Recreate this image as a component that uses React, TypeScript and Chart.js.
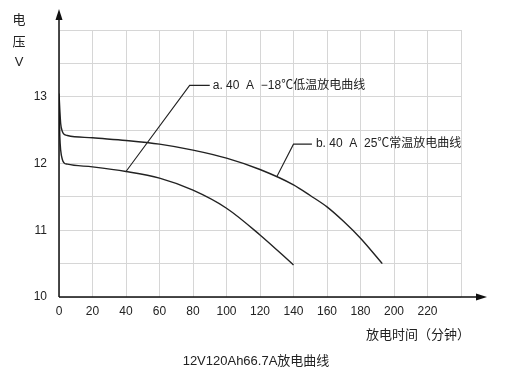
import React, { useEffect, useRef } from "react";
import { Chart, registerables } from "chart.js";

Chart.register(...registerables);

// X axis: discharge time (minutes)
const xTickLabels = [0, 20, 40, 60, 80, 100, 120, 140, 160, 180, 200, 220];
const yTickLabels = [10, 11, 12, 13];

// b. 40A 25°C normal-temperature discharge curve
const curveBTime = [0, 0.5, 1, 2, 3, 5, 20, 40, 60, 80, 100, 120, 140, 150, 160, 170, 180, 193];
const curveBVolt = [13.05, 12.8, 12.6, 12.48, 12.44, 12.42, 12.385, 12.345, 12.29, 12.2, 12.08, 11.91, 11.68, 11.52, 11.35, 11.13, 10.88, 10.5];

// a. 40A -18°C low-temperature discharge curve
const curveATime = [0, 0.5, 1, 2, 3, 5, 20, 40, 60, 80, 100, 120, 140];
const curveAVolt = [12.9, 12.4, 12.2, 12.06, 12.01, 11.99, 11.95, 11.88, 11.78, 11.6, 11.33, 10.93, 10.48];

const labelA = "a. 40  A  \u221218\u2103低温放电曲线";
const labelB = "b. 40  A  25\u2103常温放电曲线";
// leader line anchors in data units: [curve point, corner, end]
const leaderA = [[40, 11.88], [78, 13.17], [90, 13.17]];
const leaderB = [[130, 11.8], [140, 12.29], [151, 12.29]];

const xTitle = "放电时间（分钟）";
const yTitle = ["电", "压", "V"];
const chartTitle = "12V120Ah66.7A放电曲线";

const FONT = '"Liberation Sans", "Noto Sans CJK SC", sans-serif';

function toPoints(xs: number[], ys: number[]) {
  return xs.map((x, i) => ({ x, y: ys[i] }));
}

const decorPlugin = {
  id: "decor",
  afterDraw(chart: any) {
    const ctx = chart.ctx as CanvasRenderingContext2D;
    const xs = chart.scales.x;
    const ys = chart.scales.y;
    const area = chart.chartArea;
    const ox = area.left;
    const oy = area.bottom;
    ctx.save();
    // axes with arrows
    ctx.strokeStyle = "#111";
    ctx.fillStyle = "#111";
    ctx.lineWidth = 1.5;
    ctx.beginPath();
    ctx.moveTo(ox, oy);
    ctx.lineTo(ox, 14);
    ctx.moveTo(ox, oy);
    ctx.lineTo(482, oy);
    ctx.stroke();
    ctx.beginPath();
    ctx.moveTo(ox, 9);
    ctx.lineTo(ox - 3.5, 20);
    ctx.lineTo(ox + 3.5, 20);
    ctx.closePath();
    ctx.fill();
    ctx.beginPath();
    ctx.moveTo(487, oy);
    ctx.lineTo(476, oy - 3.5);
    ctx.lineTo(476, oy + 3.5);
    ctx.closePath();
    ctx.fill();

    // leader lines
    ctx.lineWidth = 1.1;
    ctx.strokeStyle = "#222";
    for (const ld of [leaderA, leaderB]) {
      ctx.beginPath();
      ld.forEach((p, i) => {
        const px = xs.getPixelForValue(p[0]);
        const py = ys.getPixelForValue(p[1]);
        if (i === 0) ctx.moveTo(px, py);
        else ctx.lineTo(px, py);
      });
      ctx.stroke();
    }
    // labels
    ctx.fillStyle = "#222";
    ctx.font = "12px " + FONT;
    ctx.textBaseline = "middle";
    ctx.textAlign = "left";
    ctx.fillText(labelA, xs.getPixelForValue(leaderA[2][0]) + 3, ys.getPixelForValue(leaderA[2][1]));
    ctx.fillText(labelB, xs.getPixelForValue(leaderB[2][0]) + 4, ys.getPixelForValue(leaderB[2][1]));

    // y title stacked
    ctx.font = "13px " + FONT;
    ctx.textAlign = "center";
    ctx.fillText(yTitle[0], 19, 20);
    ctx.fillText(yTitle[1], 19, 42);
    ctx.fillText(yTitle[2], 19, 62);

    // x title
    ctx.font = "13px " + FONT;
    ctx.textAlign = "left";
    ctx.fillText(xTitle, 366, 335);

    // chart title
    ctx.font = "13px " + FONT;
    ctx.textAlign = "center";
    ctx.fillText(chartTitle, 256, 361);
    ctx.restore();
  },
};

export default function App() {
  const ref = useRef<HTMLCanvasElement>(null);
  useEffect(() => {
    if (!ref.current) return;
    const chart = new Chart(ref.current, {
      type: "line",
      data: {
        datasets: [
          {
            data: toPoints(curveBTime, curveBVolt),
            borderColor: "#222",
            borderWidth: 1.4,
            pointRadius: 0,
            cubicInterpolationMode: "monotone",
            fill: false,
          },
          {
            data: toPoints(curveATime, curveAVolt),
            borderColor: "#222",
            borderWidth: 1.4,
            pointRadius: 0,
            cubicInterpolationMode: "monotone",
            fill: false,
          },
        ],
      },
      options: {
        responsive: false,
        animation: false,
        events: [],
        layout: { padding: { left: 0, right: 52, top: 30, bottom: 0 } },
        plugins: { legend: { display: false }, tooltip: { enabled: false }, title: { display: false } },
        scales: {
          x: {
            type: "linear",
            min: 0,
            max: 240,
            afterFit: (s: any) => { s.height = 91; },
            border: { display: false },
            grid: { color: "#d6d6d6", lineWidth: 1, drawTicks: false },
            ticks: {
              stepSize: 20,
              autoSkip: false,
              maxRotation: 0,
              padding: 7,
              color: "#222",
              font: { size: 12, family: FONT },
              callback: (v: any) => (xTickLabels.includes(Number(v)) ? String(v) : ""),
            },
          },
          y: {
            type: "linear",
            min: 10,
            max: 14,
            afterFit: (s: any) => { s.width = 59; },
            border: { display: false },
            grid: { color: "#d6d6d6", lineWidth: 1, drawTicks: false },
            ticks: {
              stepSize: 0.5,
              autoSkip: false,
              padding: 12,
              color: "#222",
              font: { size: 12, family: FONT },
              callback: (v: any) => (yTickLabels.includes(Number(v)) ? String(v) : ""),
            },
          },
        },
      },
      plugins: [decorPlugin],
    });
    return () => chart.destroy();
  }, []);
  return (
    <div style={{ position: "fixed", left: 0, top: 0, width: 513, height: 388, background: "#fff" }}>
      <canvas ref={ref} width={513} height={388} />
    </div>
  );
}
